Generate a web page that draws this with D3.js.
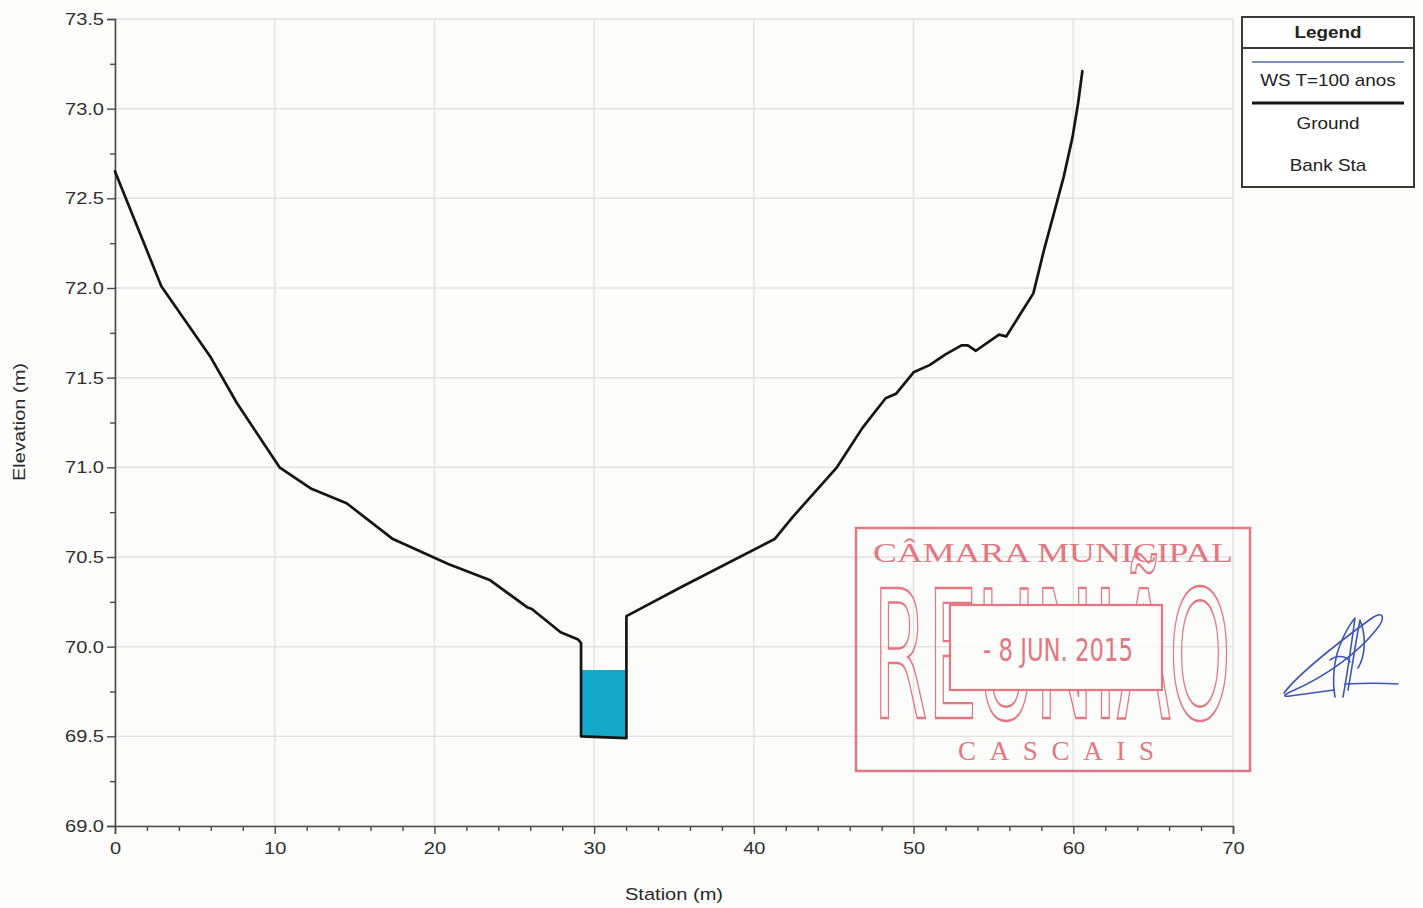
<!DOCTYPE html>
<html>
<head>
<meta charset="utf-8">
<script src="https://cdn.jsdelivr.net/npm/d3@7"></script>
<style>
  html, body { margin: 0; padding: 0; background: #fcfcfa; }
  svg { display: block; font-family: "Liberation Sans", Arial, Helvetica, sans-serif; }
</style>
</head>
<body>
<svg id="chart" width="1423" height="908"></svg>
<script>
// ---------------- DATA ----------------
const groundStation = [0, 2.9, 5.95, 7.62, 10.3, 12.3, 14.5, 17.4, 20.9, 23.5, 25.8, 26.1, 27.9, 29.0, 29.18, 29.18, 32.02, 32.02, 35.4, 41.3, 42.4, 45.2, 46.8, 48.25, 48.9, 50.0, 51.0, 52.0, 53.0, 53.4, 53.9, 55.35, 55.8, 57.5, 58.16, 58.8, 59.4, 59.95, 60.3, 60.57];
const groundElevation = [72.65, 72.01, 71.62, 71.36, 71.0, 70.88, 70.80, 70.60, 70.46, 70.37, 70.22, 70.21, 70.08, 70.04, 70.02, 69.50, 69.49, 70.17, 70.33, 70.60, 70.72, 71.0, 71.22, 71.385, 71.41, 71.53, 71.57, 71.63, 71.68, 71.68, 71.65, 71.74, 71.73, 71.97, 72.21, 72.42, 72.62, 72.84, 73.03, 73.21];
const wsStation = [29.18, 32.02];
const wsBedElevation = [69.50, 69.49];
const wsElevation = 69.87;
const xTicks = [0, 10, 20, 30, 40, 50, 60, 70];
const xMinorTicks = [2, 4, 6, 8, 12, 14, 16, 18, 22, 24, 26, 28, 32, 34, 36, 38, 42, 44, 46, 48, 52, 54, 56, 58, 62, 64, 66, 68];
const yTicks = [69.0, 69.5, 70.0, 70.5, 71.0, 71.5, 72.0, 72.5, 73.0, 73.5];
const yMinorTicks = [69.25, 69.75, 70.25, 70.75, 71.25, 71.75, 72.25, 72.75, 73.25];
const legendLabels = ["WS T=100 anos", "Ground", "Bank Sta"];

// ---------------- LAYOUT ----------------
const svg = d3.select("#chart");
const M = { left: 115, top: 19, right: 1233, bottom: 826 };
const SX = 1.18; // horizontal glyph stretch seen in the reference

const x = d3.scaleLinear().domain([0, 70]).range([M.left, M.right]);
const y = d3.scaleLinear().domain([69, 73.5]).range([M.bottom, M.top]);

svg.append("rect").attr("width", 1423).attr("height", 908).attr("fill", "#fcfcfa");

// grid
const grid = svg.append("g").attr("stroke", "#e3e3e3").attr("stroke-width", 1.5);
grid.selectAll(".gx").data(xTicks).join("line")
  .attr("x1", d => x(d)).attr("x2", d => x(d)).attr("y1", M.top).attr("y2", M.bottom);
grid.selectAll(".gy").data(yTicks).join("line")
  .attr("y1", d => y(d)).attr("y2", d => y(d)).attr("x1", M.left).attr("x2", M.right);

function stretchText(sel) {
  sel.each(function() {
    const t = d3.select(this);
    const xv = +t.attr("x") || 0;
    t.attr("x", xv / SX).attr("transform", `scale(${SX},1)`);
  });
}

// axes
const yAxis = svg.append("g").attr("transform", `translate(${M.left},0)`)
  .call(d3.axisLeft(y).tickValues(yTicks).tickFormat(d3.format(".1f")).tickSize(8).tickPadding(3));
const yMinor = svg.append("g").attr("transform", `translate(${M.left},0)`)
  .call(d3.axisLeft(y).tickValues(yMinorTicks).tickFormat("").tickSize(5));
const xAxis = svg.append("g").attr("transform", `translate(0,${M.bottom})`)
  .call(d3.axisBottom(x).tickValues(xTicks).tickFormat(d3.format("d")).tickSize(8).tickPadding(8));
const xMinor = svg.append("g").attr("transform", `translate(0,${M.bottom})`)
  .call(d3.axisBottom(x).tickValues(xMinorTicks).tickFormat("").tickSize(5));

[yAxis, yMinor, xAxis, xMinor].forEach(a => {
  a.select(".domain").attr("stroke", "#4a4a4a").attr("stroke-width", 1.6);
  a.selectAll(".tick line").attr("stroke", "#4a4a4a").attr("stroke-width", 1.4);
  a.selectAll("text").attr("font-size", 17).attr("fill", "#303030")
    .attr("font-family", "'Liberation Sans', Arial, sans-serif");
});
yMinor.select(".domain").remove();
xMinor.select(".domain").remove();
stretchText(yAxis.selectAll("text"));
stretchText(xAxis.selectAll("text"));

// axis titles
svg.append("text").attr("transform", `translate(674,900) scale(${SX},1)`)
  .attr("text-anchor", "middle").attr("font-size", 17).attr("fill", "#2a2a2a").text("Station (m)");
svg.append("text").attr("transform", `translate(25,422) rotate(-90) scale(${SX},1)`)
  .attr("text-anchor", "middle").attr("font-size", 17).attr("fill", "#2a2a2a").text("Elevation (m)");

// water surface
const wsData = wsStation.map((s, i) => ({ s, bed: wsBedElevation[i] }));
svg.append("path").datum(wsData)
  .attr("d", d3.area().x(d => x(d.s)).y0(d => y(d.bed)).y1(() => y(wsElevation)))
  .attr("fill", "#15a9c9");

// ground
const groundData = groundStation.map((s, i) => ({ s, e: groundElevation[i] }));
svg.append("path").datum(groundData)
  .attr("d", d3.line().x(d => x(d.s)).y(d => y(d.e)))
  .attr("fill", "none").attr("stroke", "#151515").attr("stroke-width", 2.7)
  .attr("stroke-linejoin", "round").attr("stroke-linecap", "round");

// legend
const lg = svg.append("g");
lg.append("rect").attr("x", 1242).attr("y", 17).attr("width", 172).attr("height", 170)
  .attr("fill", "#ffffff").attr("stroke", "#3a3a3a").attr("stroke-width", 2);
lg.append("line").attr("x1", 1242).attr("x2", 1414).attr("y1", 48).attr("y2", 48)
  .attr("stroke", "#3a3a3a").attr("stroke-width", 2);
lg.append("text").attr("transform", `translate(1328,38) scale(${SX},1)`).attr("text-anchor", "middle")
  .attr("font-size", 16).attr("font-weight", "bold").attr("fill", "#222").text("Legend");
lg.append("line").attr("x1", 1252).attr("x2", 1404).attr("y1", 62).attr("y2", 62)
  .attr("stroke", "#4a6fa8").attr("stroke-width", 1.5);
lg.append("line").attr("x1", 1252).attr("x2", 1404).attr("y1", 103).attr("y2", 103)
  .attr("stroke", "#151515").attr("stroke-width", 2.8);
const legendY = [86, 129, 171];
legendLabels.forEach((t, i) => {
  lg.append("text").attr("transform", `translate(1328,${legendY[i]}) scale(${SX},1)`)
    .attr("text-anchor", "middle").attr("font-size", 16).attr("fill", "#222").text(t);
});

// stamp
const red = "#e0606c";
const st = svg.append("g").attr("opacity", 0.85);
st.append("rect").attr("x", 856).attr("y", 528).attr("width", 394).attr("height", 243)
  .attr("fill", "none").attr("stroke", red).attr("stroke-width", 2.5);
st.append("text").attr("x", 873).attr("y", 562).attr("textLength", 360).attr("lengthAdjust", "spacingAndGlyphs")
  .attr("font-family", "'Liberation Serif', 'DejaVu Serif', serif").attr("font-size", 27)
  .attr("fill", red).text("CÂMARA MUNICIPAL");
st.append("text").attr("x", 873).attr("y", 718).attr("textLength", 358).attr("lengthAdjust", "spacingAndGlyphs")
  .attr("font-family", "'Liberation Sans Narrow', 'DejaVu Sans Condensed', sans-serif").attr("font-size", 178)
  .attr("fill", "none").attr("stroke", red).attr("stroke-width", 2.4).text("REUNIÃO");
st.append("rect").attr("x", 950).attr("y", 605).attr("width", 212).attr("height", 85)
  .attr("fill", "#fcfcfa").attr("stroke", red).attr("stroke-width", 2.2);
st.append("text").attr("x", 983).attr("y", 661).attr("textLength", 150).attr("lengthAdjust", "spacingAndGlyphs")
  .attr("font-family", "'Liberation Sans Narrow', 'DejaVu Sans Condensed', sans-serif").attr("font-size", 32)
  .attr("fill", red).text("- 8 JUN. 2015");
st.append("text").attr("x", 958).attr("y", 760).attr("textLength", 196).attr("lengthAdjust", "spacing")
  .attr("font-family", "'Liberation Serif', 'DejaVu Serif', serif").attr("font-size", 27)
  .attr("fill", red).text("CASCAIS");

// signature
const sig = svg.append("g").attr("fill", "none").attr("stroke", "#3c55b8").attr("stroke-width", 1.6)
  .attr("stroke-linecap", "round").attr("stroke-linejoin", "round");
sig.append("path").attr("d", "M1284,693 C1300,672 1335,645 1372,618 C1384,610 1386,618 1376,630 C1360,650 1330,675 1290,692 C1284,695 1282,697 1290,696 L1334,690");
sig.append("path").attr("d", "M1335,697 C1332,680 1334,660 1340,645 C1345,632 1350,624 1355,618 C1352,640 1348,670 1343,697");
sig.append("path").attr("d", "M1348,690 C1352,668 1356,640 1360,620 C1366,635 1366,655 1358,668");
sig.append("path").attr("d", "M1330,660 C1336,655 1346,655 1350,662");
sig.append("path").attr("d", "M1345,684 C1365,683 1383,683 1398,684");
</script>
</body>
</html>
